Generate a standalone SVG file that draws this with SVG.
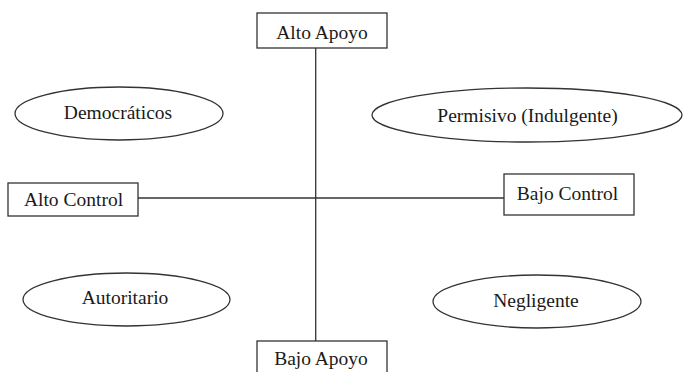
<svg xmlns="http://www.w3.org/2000/svg" width="683" height="372" viewBox="0 0 683 372">
<style>
.box{fill:#fff;stroke:#333;stroke-width:1.3}
.ell{fill:#fff;stroke:#333;stroke-width:1.3}
.ln{stroke:#333;stroke-width:1.3;fill:none}
text{font-family:"Liberation Serif","Times New Roman",serif;font-size:19.5px;fill:#1a1a1a;text-anchor:middle}
</style>
<rect width="683" height="372" fill="#fff"/>
<g id="connectors">
<line class="ln" x1="315.7" y1="48" x2="315.7" y2="341"/>
<line class="ln" x1="138" y1="198" x2="504" y2="198"/>
</g>
<g id="alto-apoyo">
<rect class="box" x="257" y="13" width="130" height="35"/>
<text x="322" y="39">Alto Apoyo</text>
</g>
<g id="bajo-apoyo">
<rect class="box" x="257" y="341" width="130" height="40"/>
<text x="321" y="365">Bajo Apoyo</text>
</g>
<g id="alto-control">
<rect class="box" x="8" y="183" width="130" height="33"/>
<text x="73.5" y="206">Alto Control</text>
</g>
<g id="bajo-control">
<rect class="box" x="504" y="174" width="130" height="41"/>
<text x="567.5" y="200">Bajo Control</text>
</g>
<g id="democraticos">
<ellipse class="ell" cx="119" cy="113.5" rx="104" ry="26.5"/>
<text x="118" y="118.5">Democráticos</text>
</g>
<g id="permisivo">
<ellipse class="ell" cx="527" cy="115" rx="155" ry="27"/>
<text x="527.5" y="122">Permisivo (Indulgente)</text>
</g>
<g id="autoritario">
<ellipse class="ell" cx="126.5" cy="299.5" rx="103.5" ry="26.5"/>
<text x="125" y="303.5">Autoritario</text>
</g>
<g id="negligente">
<ellipse class="ell" cx="537" cy="301.5" rx="104" ry="26.5"/>
<text x="536" y="307">Negligente</text>
</g>
</svg>
